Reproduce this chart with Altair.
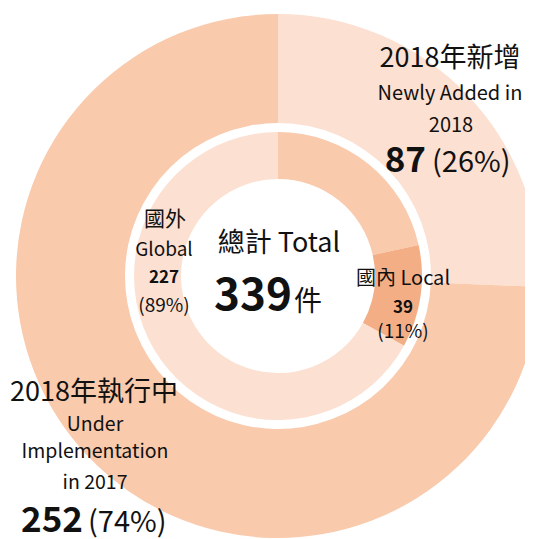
import altair as alt
import pandas as pd

# ---- data ----
outer_names = ["2018年新增", "2018年執行中"]
outer_values = [87, 252]
inner_names = ["其他", "國內 Local", "國外 Global"]
inner_values = [73, 39, 227]

LIGHT = "#FCE0D1"
MEDIUM = "#F9CAAC"
DARK = "#F4AE85"
outer_colors = [LIGHT, MEDIUM]
inner_colors = [MEDIUM, DARK, LIGHT]

FONT = "Noto Sans CJK TC"
TXT = "#111111"
OFF = 8  # page margin
CX, CY = 278 - OFF, 276 - OFF

outer_df = pd.DataFrame({"name": outer_names, "value": outer_values,
                         "color": outer_colors, "order": [0, 1]})
inner_df = pd.DataFrame({"name": inner_names, "value": inner_values,
                         "color": inner_colors, "order": [0, 1, 2]})


def ring(df, r_out, r_in):
    return alt.Chart(df).mark_arc(radius=r_out, radius2=r_in).encode(
        theta=alt.Theta("value:Q", stack=True),
        order=alt.Order("order:Q"),
        color=alt.Color("color:N", scale=None),
        x=alt.value(CX),
        y=alt.value(CY),
    )


def txt(text, x, y, size, weight="normal", align="center"):
    return alt.Chart(pd.DataFrame({"t": [text]})).mark_text(
        font=FONT, fontSize=size, fontWeight=weight, align=align,
        baseline="alphabetic", color=TXT,
    ).encode(text="t:N", x=alt.value(x - OFF), y=alt.value(y - OFF))


layers = [
    ring(outer_df, 262, 153),
    ring(inner_df, 144, 97),
    # outer: newly added
    txt("2018年新增", 450, 67, 27),
    txt("Newly Added in", 450, 100, 20),
    txt("2018", 451, 132, 20),
    txt(str(outer_values[0]), 426, 172, 35, "bold", "right"),
    txt("(26%)", 432, 172, 29, align="left"),
    # inner: global
    txt("國外", 165, 226, 21),
    txt("Global", 164, 256, 19),
    txt(str(inner_values[2]), 164, 283, 17, "bold"),
    txt("(89%)", 164, 312, 19),
    # centre total
    txt("總計 Total", 279, 252, 27),
    txt(str(sum(outer_values)), 292, 310, 44, "bold", "right"),
    txt("件", 294, 311, 28, align="left"),
    # inner: local
    txt("國內 Local", 403, 285, 20),
    txt(str(inner_values[1]), 403, 313, 17, "bold"),
    txt("(11%)", 403, 338, 19),
    # outer: under implementation
    txt("2018年執行中", 94, 401, 27),
    txt("Under", 95, 431, 19.5),
    txt("Implementation", 95, 458, 19.5),
    txt("in 2017", 95, 489, 19.5),
    txt(str(outer_values[1]), 83, 532, 35, "bold", "right"),
    txt("(74%)", 88, 532, 29, align="left"),
]

chart = alt.layer(*layers).resolve_scale(theta="independent").properties(
    width=517, height=531, padding=0,
    autosize=alt.AutoSizeParams(type="none"),
).configure_view(stroke=None)

chart.save("out.html", embed_options={"renderer": "svg", "actions": False})
